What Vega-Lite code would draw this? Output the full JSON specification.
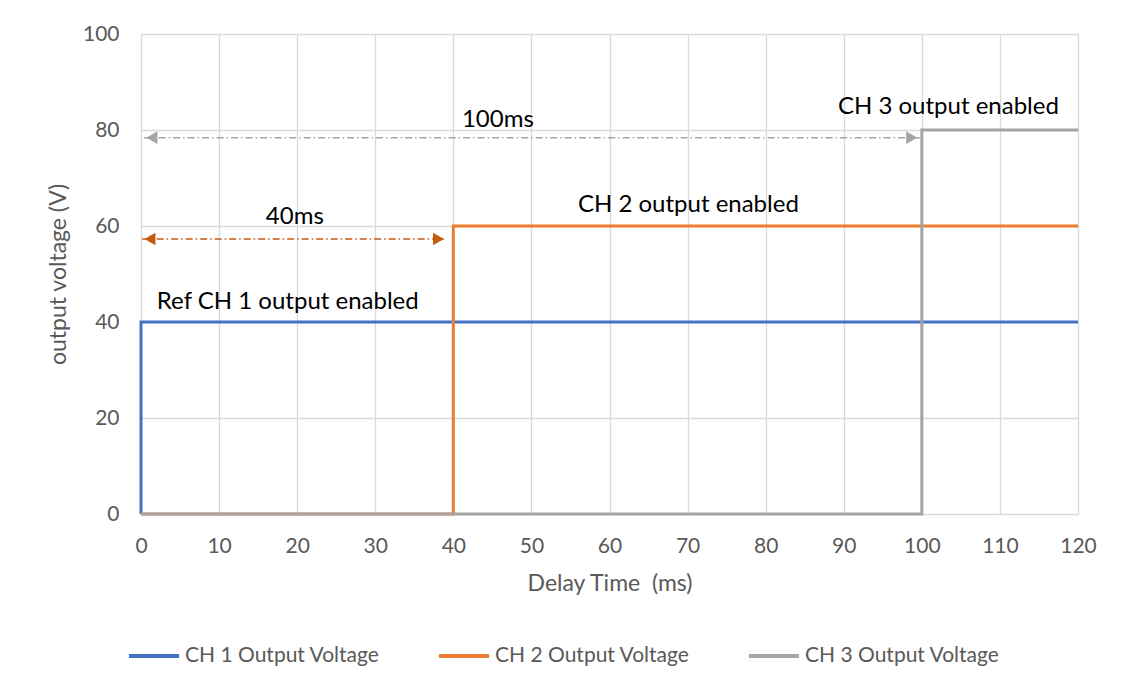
{
  "$schema": "https://vega.github.io/schema/vega-lite/v6.json",
  "width": 937,
  "height": 480,
  "autosize": {"type": "none"},
  "padding": {"left": 141, "top": 34, "right": 49, "bottom": 178},
  "background": "white",
  "config": {
    "view": {"stroke": null},
    "font": "Lato",
    "axis": {
      "labelFont": "Lato",
      "titleFont": "Lato",
      "labelColor": "#595959",
      "titleColor": "#595959",
      "labelFontSize": 21,
      "titleFontSize": 23,
      "titleFontWeight": "normal",
      "gridColor": "#d9d9d9",
      "gridWidth": 1.3,
      "domain": false,
      "ticks": false,
      "labelFlush": false
    }
  },
  "layer": [
    {
      "data": {
        "values": [
          {"series": "CH 1 Output Voltage", "i": 0, "t": 0, "v": 0},
          {"series": "CH 1 Output Voltage", "i": 1, "t": 0, "v": 40},
          {"series": "CH 1 Output Voltage", "i": 2, "t": 120, "v": 40},
          {"series": "CH 2 Output Voltage", "i": 0, "t": 0, "v": 0},
          {"series": "CH 2 Output Voltage", "i": 1, "t": 40, "v": 0},
          {"series": "CH 2 Output Voltage", "i": 2, "t": 40, "v": 60},
          {"series": "CH 2 Output Voltage", "i": 3, "t": 120, "v": 60},
          {"series": "CH 3 Output Voltage", "i": 0, "t": 0, "v": 0},
          {"series": "CH 3 Output Voltage", "i": 1, "t": 100, "v": 0},
          {"series": "CH 3 Output Voltage", "i": 2, "t": 100, "v": 80},
          {"series": "CH 3 Output Voltage", "i": 3, "t": 120, "v": 80}
        ]
      },
      "mark": {"type": "line", "strokeWidth": 3, "strokeJoin": "miter"},
      "encoding": {
        "x": {
          "field": "t", "type": "quantitative",
          "scale": {"domain": [0, 120], "nice": false},
          "axis": {"values": [0,10,20,30,40,50,60,70,80,90,100,110,120], "title": "Delay Time\u00a0 (ms)", "labelPadding": 21, "titlePadding": 16}
        },
        "y": {
          "field": "v", "type": "quantitative",
          "scale": {"domain": [0, 100], "nice": false},
          "axis": {"values": [0,20,40,60,80,100], "title": "output voltage (V)", "labelPadding": 22, "titlePadding": 12}
        },
        "order": {"field": "i", "type": "quantitative"},
        "color": {
          "field": "series", "type": "nominal",
          "scale": {"domain": ["CH 1 Output Voltage", "CH 2 Output Voltage", "CH 3 Output Voltage"], "range": ["#4472C4", "#ED7D31", "#A5A5A5"]},
          "legend": {
            "title": null,
            "orient": "none",
            "direction": "horizontal",
            "legendX": -14,
            "legendY": 595,
            "symbolType": "stroke",
            "symbolSize": 2500,
            "symbolStrokeWidth": 4,
            "labelFont": "Lato",
            "labelFontSize": 21,
            "labelColor": "#595959",
            "labelOffset": 4,
            "columnPadding": 51,
            "labelLimit": 300
          }
        }
      }
    },
    {
      "data": {
        "values": [
          {"kind": "#A5A5A5", "x1": 0.4, "x2": 99.8, "y": 78.4},
          {"kind": "#C55A11", "x1": 0.15, "x2": 39.1, "y": 57.3}
        ]
      },
      "mark": {"type": "rule", "strokeWidth": 1.4, "strokeDash": [7, 3, 1.5, 3]},
      "encoding": {
        "x": {"field": "x1", "type": "quantitative"},
        "x2": {"field": "x2"},
        "y": {"field": "y", "type": "quantitative"},
        "color": {"field": "kind", "type": "nominal", "scale": null, "legend": null}
      }
    },
    {
      "data": {
        "values": [
          {"kind": "#A5A5A5", "x": 1.4, "y": 78.4, "shape": "triangle-left"},
          {"kind": "#A5A5A5", "x": 98.7, "y": 78.4, "shape": "triangle-right"},
          {"kind": "#C55A11", "x": 1.15, "y": 57.3, "shape": "triangle-left"},
          {"kind": "#C55A11", "x": 38.1, "y": 57.3, "shape": "triangle-right"}
        ]
      },
      "mark": {"type": "point", "filled": true, "opacity": 1, "size": 160},
      "encoding": {
        "x": {"field": "x", "type": "quantitative"},
        "y": {"field": "y", "type": "quantitative"},
        "shape": {"field": "shape", "type": "nominal", "scale": null, "legend": null},
        "color": {"field": "kind", "type": "nominal", "scale": null, "legend": null}
      }
    },
    {
      "data": {
        "values": [
          {"label": "100ms", "x": 45.7, "y": 82.1},
          {"label": "40ms", "x": 19.7, "y": 61.9},
          {"label": "CH 2 output enabled", "x": 70.1, "y": 64.4},
          {"label": "CH 3 output enabled", "x": 103.4, "y": 84.8},
          {"label": "Ref CH 1 output enabled", "x": 18.8, "y": 44.2}
        ]
      },
      "mark": {"type": "text", "font": "Lato", "fontSize": 24, "color": "#000000", "align": "center", "baseline": "middle"},
      "encoding": {
        "x": {"field": "x", "type": "quantitative"},
        "y": {"field": "y", "type": "quantitative"},
        "text": {"field": "label", "type": "nominal"}
      }
    }
  ]
}
